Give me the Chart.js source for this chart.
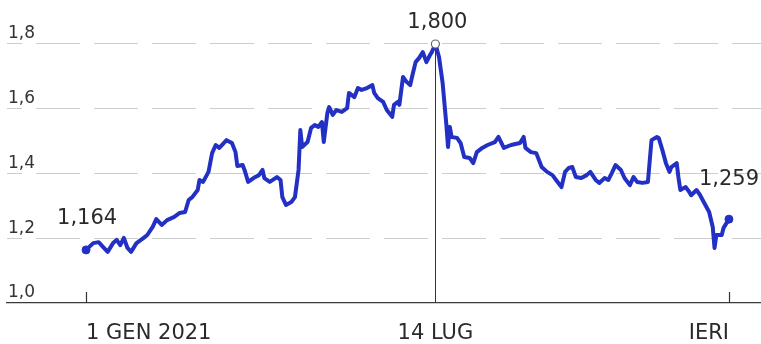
<!DOCTYPE html>
<html>
<head>
<meta charset="utf-8">
<script src="https://cdn.jsdelivr.net/npm/chart.js@4"></script>
<style>
  html, body { margin: 0; padding: 0; background: #fff; }
  .chart-wrap { width: 761px; height: 344px; position: relative; }
</style>
</head>
<body>
<div class="chart-wrap"><canvas id="priceChart"></canvas></div>
<script>
// days since 1 Jan 2021, price
const days = [
  0, 4, 7, 9, 12, 15, 17, 19, 21, 23, 25, 28, 32, 34, 37, 39, 42, 45, 49, 52,
  55, 57, 59, 62, 63, 65, 68, 70, 72, 74, 78, 81, 83, 84, 87, 88, 90, 93, 96, 98,
  99, 102, 106, 108, 109, 111, 114, 116, 118, 119, 120, 123, 125, 127, 129, 131, 132, 134, 135, 137,
  139, 142, 145, 146, 149, 151, 153, 156, 159, 160, 162, 165, 167, 170, 171, 173, 174, 176, 178, 180,
  181, 183, 185, 187, 189, 191, 192, 194, 196, 198, 200, 201, 202, 203, 206, 208, 210, 213, 215, 217,
  220, 223, 227, 229, 232, 236, 241, 243, 244, 247, 250, 253, 256, 259, 261, 264, 266, 268, 270, 272,
  275, 278, 280, 283, 285, 288, 290, 292, 294, 297, 299, 302, 304, 306, 309, 312, 314, 317, 318, 320,
  322, 324, 325, 328, 329, 330, 333, 335, 336, 339, 341, 343, 346, 348, 349, 350, 353, 354, 357
];
const prices = [
  1.164, 1.185, 1.188, 1.176, 1.158, 1.185, 1.195, 1.179, 1.201, 1.170, 1.158, 1.185, 1.201, 1.210, 1.235, 1.259, 1.241, 1.256, 1.266, 1.278,
  1.281, 1.318, 1.327, 1.349, 1.380, 1.374, 1.405, 1.463, 1.488, 1.479, 1.503, 1.494, 1.466, 1.423, 1.426, 1.411, 1.374, 1.386, 1.395, 1.411,
  1.386, 1.374, 1.389, 1.380, 1.327, 1.303, 1.312, 1.327, 1.411, 1.534, 1.482, 1.497, 1.541, 1.550, 1.544, 1.559, 1.497, 1.587, 1.605, 1.581,
  1.596, 1.590, 1.602, 1.649, 1.636, 1.664, 1.658, 1.664, 1.673, 1.649, 1.633, 1.621, 1.596, 1.575, 1.612, 1.621, 1.612, 1.698, 1.683, 1.673,
  1.698, 1.744, 1.757, 1.775, 1.744, 1.766, 1.775, 1.800, 1.760, 1.680, 1.556, 1.482, 1.544, 1.513, 1.510, 1.494, 1.451, 1.448, 1.432, 1.466,
  1.479, 1.488, 1.497, 1.513, 1.479, 1.488, 1.494, 1.513, 1.479, 1.466, 1.463, 1.420, 1.405, 1.395, 1.380, 1.358, 1.405, 1.417, 1.420, 1.389,
  1.386, 1.395, 1.405, 1.380, 1.371, 1.386, 1.380, 1.402, 1.426, 1.411, 1.386, 1.364, 1.389, 1.374, 1.371, 1.374, 1.503, 1.513, 1.510, 1.473,
  1.432, 1.405, 1.420, 1.432, 1.386, 1.349, 1.358, 1.343, 1.333, 1.349, 1.333, 1.312, 1.281, 1.235, 1.170, 1.210, 1.210, 1.232, 1.259
];

const tickDays = [0, 194, 357];
const tickLabels = ["1 GEN 2021", "14 LUG", "IERI"];
const yTicks = [1.0, 1.2, 1.4, 1.6, 1.8];

const FONT = "'DejaVu Sans', sans-serif";
const INK = "#2a2a2a";
const LINE_BLUE = "#2230c4";

const peakIndex = prices.indexOf(Math.max(...prices));
const lastIndex = prices.length - 1;

function fmt(v, digits) {
  return v.toFixed(digits).replace(".", ",");
}

// value labels and the small upward ticks on the axis
const annotations = {
  id: "annotations",
  afterDraw(chart) {
    const { ctx, scales: { x, y }, chartArea } = chart;
    ctx.save();

    ctx.strokeStyle = "#333";
    ctx.lineWidth = 1.2;
    [tickDays[0], tickDays[2]].forEach((d) => {
      const px = Math.round(x.getPixelForValue(d)) + 0.5;
      ctx.beginPath();
      ctx.moveTo(px, chartArea.bottom - 11);
      ctx.lineTo(px, chartArea.bottom);
      ctx.stroke();
    });

    ctx.fillStyle = INK;
    ctx.font = "21px " + FONT;
    ctx.textBaseline = "alphabetic";

    const first = { x: x.getPixelForValue(days[0]), y: y.getPixelForValue(prices[0]) };
    ctx.textAlign = "left";
    ctx.fillText(fmt(prices[0], 3), first.x - 29, first.y - 26);

    const peak = { x: x.getPixelForValue(days[peakIndex]), y: y.getPixelForValue(prices[peakIndex]) };
    ctx.textAlign = "center";
    ctx.fillText(fmt(prices[peakIndex], 3), peak.x + 2, peak.y - 16);

    const last = { x: x.getPixelForValue(days[lastIndex]), y: y.getPixelForValue(prices[lastIndex]) };
    ctx.fillText(fmt(prices[lastIndex], 3), last.x, last.y - 34);

    ctx.restore();
  }
};

new Chart(document.getElementById("priceChart"), {
  type: "line",
  data: {
    datasets: [
      {
        data: days.map((d, i) => ({ x: d, y: prices[i] })),
        borderColor: LINE_BLUE,
        borderWidth: 4,
        borderJoinStyle: "round",
        tension: 0,
        clip: false,
        pointRadius: (c) => (c.dataIndex === 0 || c.dataIndex === lastIndex || c.dataIndex === peakIndex ? 4 : 0),
        pointBackgroundColor: (c) => (c.dataIndex === peakIndex ? "#fff" : LINE_BLUE),
        pointBorderColor: (c) => (c.dataIndex === peakIndex ? "#666" : LINE_BLUE),
        pointBorderWidth: (c) => (c.dataIndex === peakIndex ? 1.2 : 1)
      }
    ]
  },
  options: {
    responsive: true,
    maintainAspectRatio: false,
    animation: false,
    layout: { autoPadding: false, padding: { left: 7, right: 0, top: 44, bottom: 0 } },
    plugins: { legend: { display: false }, tooltip: { enabled: false } },
    scales: {
      x: {
        type: "linear",
        min: -43.9,
        max: 374.8,
        afterBuildTicks: (scale) => {
          scale.ticks = tickDays.map((v) => ({ value: v }));
        },
        afterFit: (scale) => {
          // fixed axis band, and no extra side padding for the edge labels
          scale.height = 41;
          scale.paddingLeft = 0;
          scale.paddingRight = 0;
        },
        ticks: {
          autoSkip: false,
          maxRotation: 0,
          align: "inner",
          padding: 18,
          color: INK,
          font: { family: FONT, size: 21 },
          callback: (value, index) => tickLabels[index]
        },
        grid: {
          drawTicks: false,
          color: (c) => (c.tick && c.tick.value === tickDays[1] ? "#333" : "rgba(0,0,0,0)"),
          lineWidth: 1
        },
        border: { display: true, color: "#3a3a3a", width: 1.3 }
      },
      y: {
        min: 1.0,
        max: 1.8,
        afterBuildTicks: (scale) => {
          scale.ticks = yTicks.map((v) => ({ value: v }));
        },
        afterFit: (scale) => {
          scale.width = 0;
        },
        ticks: {
          mirror: true,
          padding: 1,
          labelOffset: -10,
          color: "#333",
          font: { family: FONT, size: 17 },
          callback: (value) => fmt(value, 1)
        },
        grid: {
          drawTicks: false,
          color: (c) => (c.tick && c.tick.value === 1.0 ? "rgba(0,0,0,0)" : "#cdcdcd"),
          lineWidth: 1.1
        },
        border: { display: false, dash: [44, 14], dashOffset: 29 }
      }
    }
  },
  plugins: [annotations]
});
</script>
</body>
</html>
